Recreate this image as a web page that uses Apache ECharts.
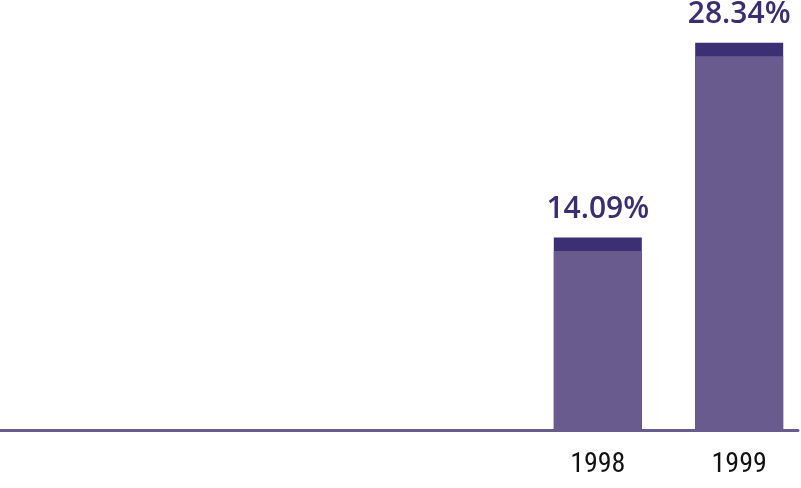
<!DOCTYPE html>
<html>
<head>
<meta charset="utf-8">
<style>
html,body{margin:0;padding:0;background:#fff;}
#chart{width:801px;height:488px;}
</style>
<script src="https://cdn.jsdelivr.net/npm/echarts@6/dist/echarts.min.js"></script>
</head>
<body>
<div id="chart"></div>
<script>
const years = [1998, 1999];
const totalValues = [14.09, 28.34];
const baseValues = [13.09, 27.34];
const totalLabels = ['14.09%', '28.34%'];

const chart = echarts.init(document.getElementById('chart'));
chart.setOption({
  animation: false,
  backgroundColor: '#ffffff',
  grid: { left: 0, right: 3, top: 20, bottom: 58, containLabel: false },
  xAxis: {
    type: 'value',
    min: 1993.772,
    max: 1999.416,
    splitLine: { show: false },
    axisLine: { show: true, lineStyle: { color: '#6a5b8e', width: 3 } },
    axisTick: { show: false },
    axisLabel: {
      customValues: years,
      formatter: v => String(v),
      color: '#111111',
      fontFamily: '"Liberation Sans Narrow", "Roboto Condensed", "Liberation Sans", sans-serif',
      fontSize: 28,
      margin: 21
    }
  },
  yAxis: {
    type: 'value',
    min: 0,
    max: 30,
    show: false,
    splitLine: { show: false }
  },
  series: [
    {
      type: 'bar',
      data: years.map((y, i) => [y, totalValues[i]]),
      barWidth: 88,
      barGap: '-100%',
      itemStyle: { color: '#3d2f73' },
      label: {
        show: true,
        position: 'top',
        distance: 13,
        color: '#3b2d6e',
        fontFamily: '"Open Sans", sans-serif',
        fontWeight: 600,
        fontSize: 30,
        formatter: p => totalLabels[p.dataIndex]
      }
    },
    {
      type: 'bar',
      data: years.map((y, i) => [y, baseValues[i]]),
      barWidth: 88,
      barGap: '-100%',
      itemStyle: { color: '#6a5b8e' }
    }
  ]
});
</script>
</body>
</html>
